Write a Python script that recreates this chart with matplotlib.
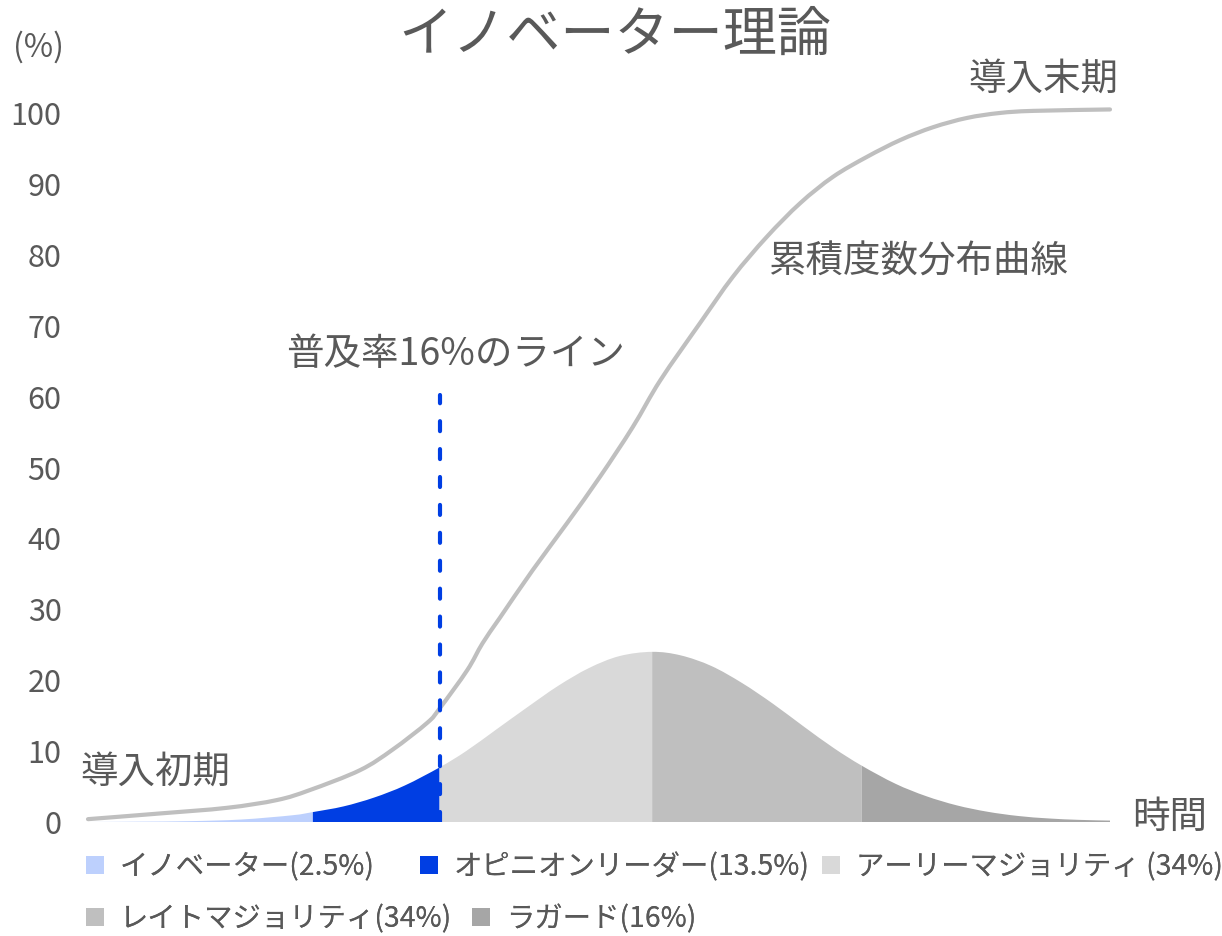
import matplotlib
matplotlib.use("Agg")
import matplotlib.pyplot as plt
from matplotlib.patches import Patch, PathPatch
from matplotlib.path import Path

plt.rcParams['font.family'] = ['Noto Sans CJK JP', 'DejaVu Sans']

TEXT = '#595959'

# --- data -------------------------------------------------------------
title = 'イノベーター理論'
y_ticks = [0, 10, 20, 30, 40, 50, 60, 70, 80, 90, 100]

# distribution curve (time axis 0-100)
dist_x = [0, 5, 10, 15, 20, 22, 25, 28, 31, 34.4, 37, 40, 43, 46, 49, 52, 55.2,
          58, 61, 64, 67, 70, 73, 75.7, 79, 82, 85, 88, 91, 94, 97, 100]
dist_y = [0.0, 0.05, 0.12, 0.35, 0.95, 1.4, 2.2, 3.45, 5.15, 7.7, 10.0, 13.1, 16.2,
          19.2, 21.7, 23.4, 24.0, 23.5, 22.0, 19.6, 16.7, 13.5, 10.4, 7.95, 5.4,
          3.65, 2.35, 1.45, 0.85, 0.5, 0.3, 0.2]

segment_names = ['イノベーター(2.5%)', 'オピニオンリーダー(13.5%)', 'アーリーマジョリティ (34%)',
                 'レイトマジョリティ(34%)', 'ラガード(16%)']
segment_bounds = [0, 22, 34.4, 55.2, 75.7, 100]
segment_colors = ['#BDD0FD', '#003EE3', '#D9D9D9', '#BFBFBF', '#A6A6A6']

# cumulative curve
cum_x = [0, 7.0, 13.6, 18.5, 21.7, 26.6, 29.8, 33.2, 34.4, 37.1, 38.6, 40.3,
         43.5, 46.9, 50.1, 53.3, 56.0, 59.9, 63.1, 66.4, 69.7, 72.9, 76.2, 79.5,
         82.7, 86.0, 89.2, 92.5, 100]
cum_y = [0.4, 1.2, 2.0, 3.1, 4.5, 7.3, 10.2, 14.0, 16.0, 21.4, 25.2, 28.8,
         35.5, 42.2, 48.7, 55.7, 62.3, 70.4, 76.9, 82.5, 87.3, 91.0, 93.8, 96.2,
         98.0, 99.3, 100.0, 100.3, 100.5]

line16_x = 34.4
line16_top = 60.2


# --- smoothed drawing (Catmull-Rom as cubic Bezier, like a smoothed line) ---
def bezier_pieces(xs, ys):
    pts = list(zip(xs, ys))
    n = len(pts)
    pieces = []
    for i in range(n - 1):
        p0 = pts[i - 1] if i > 0 else pts[i]
        p1 = pts[i]
        p2 = pts[i + 1]
        p3 = pts[i + 2] if i + 2 < n else pts[i + 1]
        c1 = (p1[0] + (p2[0] - p0[0]) / 6, p1[1] + (p2[1] - p0[1]) / 6)
        c2 = (p2[0] - (p3[0] - p1[0]) / 6, p2[1] - (p3[1] - p1[1]) / 6)
        pieces.append((p1, c1, c2, p2))
    return pieces


def curve_path(pieces, closed_to_base=False):
    verts = [pieces[0][0]]
    codes = [Path.MOVETO]
    for p1, c1, c2, p2 in pieces:
        verts += [c1, c2, p2]
        codes += [Path.CURVE4] * 3
    if closed_to_base:
        verts += [(pieces[-1][3][0], 0), (pieces[0][0][0], 0), pieces[0][0]]
        codes += [Path.LINETO, Path.LINETO, Path.CLOSEPOLY]
    return Path(verts, codes)


# --- figure -----------------------------------------------------------
W, H = 1222, 936
fig = plt.figure(figsize=(W / 100, H / 100), dpi=100)
ax = fig.add_axes([88 / W, (H - 822) / H, (1110 - 88) / W, (822 - 113) / H])
ax.set_xlim(0, 100)
ax.set_ylim(0, 100)

dist_pieces = bezier_pieces(dist_x, dist_y)
for i, name in enumerate(segment_names):
    lo, hi = segment_bounds[i], segment_bounds[i + 1]
    seg = [p for p in dist_pieces if p[0][0] >= lo and p[3][0] <= hi]
    patch = PathPatch(curve_path(seg, closed_to_base=True), facecolor=segment_colors[i],
                      edgecolor='none', lw=0, zorder=2)
    ax.add_patch(patch)

cum_patch = PathPatch(curve_path(bezier_pieces(cum_x, cum_y)), facecolor='none',
                      edgecolor='#BFBFBF', lw=3, capstyle='round', zorder=3,
                      clip_on=False)
ax.add_patch(cum_patch)

ax.plot([line16_x, line16_x], [0, line16_top], color='#003EE3', lw=3,
        linestyle=(0, (2.4, 4.3)), dash_capstyle='round', zorder=4)

for s in ax.spines.values():
    s.set_visible(False)
ax.set_xticks([])
ax.set_yticks(y_ticks)
ax.tick_params(axis='y', length=0, pad=19, labelsize=22, labelcolor=TEXT)

# annotations
ax.text(-0.8, 7.05, '導入初期', fontsize=27, color=TEXT, ha='left', va='center')
ax.text(36.0, 65.9, '普及率16%のライン', fontsize=27, color=TEXT, ha='center', va='center')
ax.text(66.5, 79.0, '累積度数分布曲線', fontsize=27, color=TEXT, ha='left', va='center')
ax.text(86.1, 104.7, '導入末期', fontsize=27, color=TEXT, ha='left', va='center',
        clip_on=False)
ax.text(102.2, 0.6, '時間', fontsize=27, color=TEXT, ha='left', va='center',
        clip_on=False)

fig.text(38.5 / W, 1 - 47.5 / H, '(%)', fontsize=23, color=TEXT, ha='center', va='center')
fig.text(615 / W, 1 - 35 / H, title, fontsize=39, color=TEXT, ha='center', va='center')

# legend: entries placed like the original flowing legend
legend_pos = [(86, 867), (420, 867), (822, 867), (86, 919), (472, 919)]
for i, name in enumerate(segment_names):
    lx, ly = legend_pos[i]
    h = Patch(facecolor=segment_colors[i], edgecolor='none')
    lg = fig.legend([h], [name], loc='center left', bbox_to_anchor=(lx / W, 1 - ly / H),
                    frameon=False, fontsize=20.4, labelcolor=TEXT, handlelength=0.64,
                    handleheight=0.64, handletextpad=0.55, borderpad=0, borderaxespad=0)
    fig.add_artist(lg)

fig.savefig('out.png', dpi=100)
